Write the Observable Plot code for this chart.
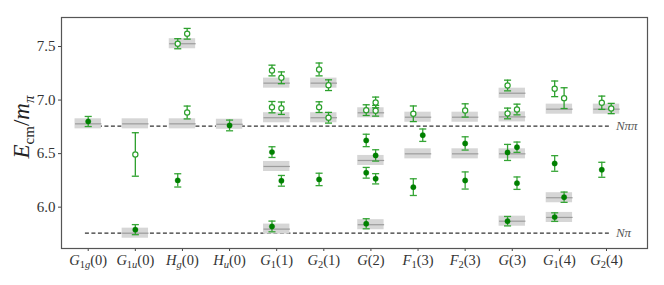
<!DOCTYPE html>
<html><head><meta charset="utf-8">
<script src="https://cdn.jsdelivr.net/npm/d3@7"></script>
<script src="https://cdn.jsdelivr.net/npm/@observablehq/plot@0.6"></script>
<style>body{margin:0;background:#fff} #chart{width:664px;height:285px}</style>
</head><body><div id="chart"></div>
<script>
// ---- data ----
const catBase = ["G","G","H","H","G","G","G","F","F","G","G","G"];
const catSub  = ["1g","1u","g","u","1","2","","1","2","","1","2"];
const catArg  = ["0","0","0","0","1","1","2","3","3","3","4","4"];
const yTicks = [6.0, 6.5, 7.0, 7.5];
const thresholds = [{name: "Nπ", e: 5.757}, {name: "Nππ", e: 6.757}];

// non-interacting levels: [category index, energy]
const boxCat = [0, 1, 1, 2, 2, 3, 4, 4, 4, 4, 5, 5, 6, 6, 6, 7, 7, 8, 8, 9, 9, 9, 9, 10, 10, 10, 11];
const boxE   = [6.778, 6.778, 5.757, 7.526, 6.778, 6.774, 7.158, 6.835, 6.38, 5.795, 7.158, 6.835,
                6.881, 6.436, 5.836, 6.84, 6.498, 6.84, 6.498, 7.064, 6.843, 6.498, 5.869, 6.915, 6.088, 5.904, 6.915];

// filled levels: category, slot (-1 left, 0 centre, 1 right), energy, error
const filledCat  = [0, 1, 2, 3, 4, 4, 4, 5, 6, 6, 6, 6, 6, 7, 7, 8, 8, 9, 9, 9, 9, 10, 10, 10, 11];
const filledSlot = [0, 0, -1, 0, -1, 1, -1, -1, -1, 1, -1, 1, -1, 1, -1, 0, 0, -1, 1, 1, -1, -1, 1, -1, -1];
const filledE    = [6.80, 5.79, 6.25, 6.763, 6.514, 6.246, 5.82, 6.259, 6.623, 6.483, 6.321, 6.265, 5.845,
                    6.672, 6.187, 6.595, 6.249, 6.511, 6.56, 6.224, 5.869, 6.408, 6.093, 5.907, 6.349];
const filledErr  = [0.047, 0.047, 0.062, 0.05, 0.05, 0.05, 0.05, 0.058, 0.058, 0.053, 0.05, 0.048, 0.047,
                    0.058, 0.078, 0.062, 0.08, 0.075, 0.048, 0.058, 0.044, 0.073, 0.048, 0.04, 0.07];

// open levels
const openCat  = [1, 2, 2, 2, 4, 4, 4, 4, 5, 5, 5, 5, 6, 6, 6, 7, 8, 9, 9, 9, 10, 10, 11, 11];
const openSlot = [0, -1, 1, 1, -1, 1, -1, 1, -1, 1, -1, 1, -1, 1, 1, -1, 0, -1, -1, 1, -1, 1, -1, 1];
const openE    = [6.492, 7.526, 7.619, 6.884, 7.276, 7.208, 6.934, 6.924, 7.286, 7.139, 6.934, 6.835,
                  6.906, 6.978, 6.90, 6.872, 6.903, 7.136, 6.875, 6.912, 7.105, 7.018, 6.975, 6.921];
const openErr  = [0.203, 0.047, 0.05, 0.06, 0.05, 0.055, 0.053, 0.058, 0.06, 0.05, 0.05, 0.05,
                  0.05, 0.05, 0.05, 0.073, 0.062, 0.05, 0.05, 0.05, 0.073, 0.097, 0.062, 0.048];

// ---- style constants ----
const SLOT = 0.1, CAP = 0.075, BOX_HW = 0.28, BOX_HH = 0.047;
const DARK = "#008000", LIGHT = "#2ca02c", ERR = "#35a535";

const boxes = boxCat.map((c, i) => ({cat: c, e: boxE[i]}));
const mk = (cat, slot, e, err) => cat.map((c, i) => ({x: c + slot[i] * SLOT, e: e[i], err: err[i]}));
const filled = mk(filledCat, filledSlot, filledE, filledErr);
const open = mk(openCat, openSlot, openE, openErr);
const keys = catBase.map((b, i) => b + "_" + catSub[i] + "(" + catArg[i] + ")");

function errMarks(data, stroke) {
  return [
    Plot.ruleX(data, {x: "x", y1: d => d.e - d.err, y2: d => d.e + d.err, stroke, strokeWidth: 1.3}),
    Plot.link(data, {x1: d => d.x - CAP, x2: d => d.x + CAP, y1: d => d.e + d.err, y2: d => d.e + d.err, stroke, strokeWidth: 1.3}),
    Plot.link(data, {x1: d => d.x - CAP, x2: d => d.x + CAP, y1: d => d.e - d.err, y2: d => d.e - d.err, stroke, strokeWidth: 1.3})
  ];
}

const chart = Plot.plot({
  width: 664, height: 285,
  marginLeft: 61, marginRight: 17, marginTop: 17, marginBottom: 37,
  style: {fontFamily: "'Liberation Serif', serif", fontSize: "14px", background: "white", color: "#333"},
  x: {type: "linear", domain: [-0.567, 11.87]},
  y: {domain: [5.614, 7.771]},
  marks: [
    Plot.link(thresholds, {x1: -0.07, x2: 11.05, y1: "e", y2: "e", stroke: "#333", strokeWidth: 1.2, strokeDasharray: "4,2.5"}),
    Plot.text(thresholds, {x: 11.2, y: "e", text: "name", textAnchor: "start", fontStyle: "italic", fontSize: 13, fill: "#555"}),
    Plot.rect(boxes, {x1: d => d.cat - BOX_HW, x2: d => d.cat + BOX_HW, y1: d => d.e - BOX_HH, y2: d => d.e + BOX_HH, fill: "#d6d6d6"}),
    Plot.link(boxes, {x1: d => d.cat - BOX_HW, x2: d => d.cat + BOX_HW, y1: "e", y2: "e", stroke: "#9c9c9c", strokeWidth: 1.2}),
    ...errMarks(open, LIGHT),
    Plot.dot(open, {x: "x", y: "e", r: 2.6, fill: "white", stroke: LIGHT, strokeWidth: 1.2}),
    ...errMarks(filled, ERR),
    Plot.dot(filled, {x: "x", y: "e", r: 2.7, fill: DARK, stroke: DARK, strokeWidth: 0.3}),
    Plot.axisY({ticks: yTicks, tickFormat: d3.format(".1f"), tickSize: 3, tickPadding: 3, fontSize: 15, label: null, stroke: "#444"}),
    Plot.axisX({ticks: d3.range(12), tickFormat: i => keys[i], tickSize: 3, tickPadding: 3, fontSize: 14.5, label: null, stroke: "#444"}),
    Plot.frame({stroke: "#555", strokeWidth: 1.2})
  ]
});
document.getElementById("chart").appendChild(chart);

const svg = d3.select(chart);
// rich x tick labels
svg.selectAll('g[aria-label="x-axis tick label"] text').each(function() {
  const el = d3.select(this);
  const i = keys.indexOf(this.textContent);
  if (i < 0) return;
  el.text(null);
  el.append("tspan").attr("font-style", "italic").text(catBase[i]);
  const sub = catSub[i];
  if (sub) {
    let first = true;
    for (const ch of sub) {
      const t = el.append("tspan").attr("font-size", "10.5px").text(ch);
      if (/[a-z]/.test(ch)) t.attr("font-style", "italic");
      if (first) { t.attr("dy", "3px"); first = false; }
    }
  }
  const p = el.append("tspan").text("(" + catArg[i] + ")");
  if (sub) p.attr("dy", "-3px");
});
// y axis label
const yl = svg.append("text")
  .attr("transform", "translate(29,127) rotate(-90)")
  .attr("text-anchor", "middle")
  .attr("font-family", "'Liberation Serif', serif")
  .attr("font-size", "23px").attr("fill", "#222");
yl.append("tspan").attr("font-style", "italic").text("E");
yl.append("tspan").attr("font-size", "15px").attr("dy", "5px").text("cm");
yl.append("tspan").attr("dy", "-5px").text("/");
yl.append("tspan").attr("font-style", "italic").text("m");
yl.append("tspan").attr("font-size", "15px").attr("font-style", "italic").attr("dy", "5px").text("π");
</script>
</body></html>
